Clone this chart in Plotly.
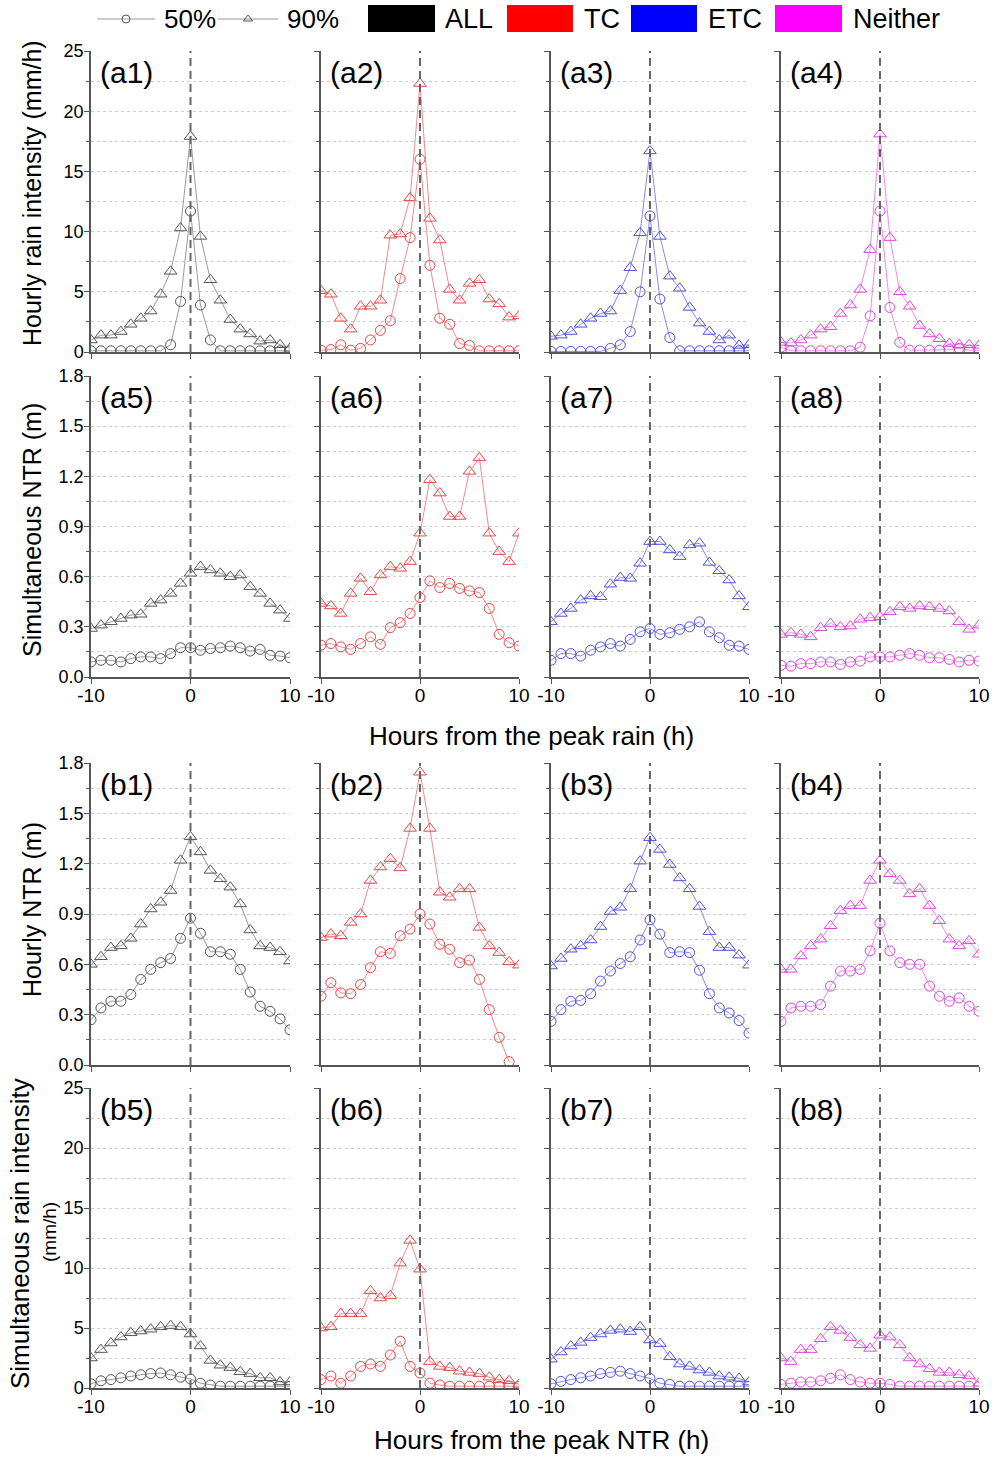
import plotly.graph_objects as go

hours = list(range(-10, 11))
groups = ["ALL", "TC", "ETC", "Neither"]
panel_labels = ["(a1)", "(a2)", "(a3)", "(a4)", "(a5)", "(a6)", "(a7)", "(a8)",
                "(b1)", "(b2)", "(b3)", "(b4)", "(b5)", "(b6)", "(b7)", "(b8)"]
yticks_rain = [0, 5, 10, 15, 20, 25]
yticks_ntr = [0.0, 0.3, 0.6, 0.9, 1.2, 1.5, 1.8]
xticks = [-10, 0, 10]
xtick_text = ["-10", "0", "10"]

# ---- (a) hourly rain intensity around peak rain (mm/h)
a1_p50 = [0.1, 0.1, 0.1, 0.1, 0.1, 0.1, 0.1, 0.1, 0.6, 4.2, 11.7, 3.9, 1.0, 0.1, 0.1, 0.1, 0.1, 0.1, 0.1, 0.1, 0.1]
a1_p90 = [1.0, 1.4, 1.4, 1.7, 2.3, 2.8, 3.4, 4.8, 6.7, 10.3, 17.9, 9.6, 6.0, 4.3, 2.7, 1.9, 1.5, 0.9, 1.0, 0.6, 0.3]
a2_p50 = [0.15, 0.2, 0.6, 0.15, 0.3, 1.0, 1.8, 2.6, 6.1, 9.5, 16.0, 7.2, 2.8, 2.3, 0.7, 0.55, 0.1, 0.1, 0.1, 0.1, 0.1]
a2_p90 = [5.1, 4.8, 2.8, 1.9, 3.8, 3.8, 4.3, 9.7, 9.8, 12.8, 22.3, 11.1, 9.3, 5.2, 4.3, 5.7, 6.0, 4.4, 4.0, 2.9, 3.0]
a3_p50 = [0.05, 0.05, 0.05, 0.05, 0.05, 0.05, 0.3, 0.6, 1.7, 5.0, 11.3, 4.4, 1.2, 0.1, 0.1, 0.1, 0.1, 0.1, 0.1, 0.1, 0.1]
a3_p90 = [1.3, 1.4, 1.7, 2.3, 2.8, 3.2, 3.4, 5.1, 7.0, 9.9, 16.7, 9.6, 6.3, 5.3, 3.7, 2.4, 1.7, 1.0, 1.4, 0.55, 0.6]
a4_p50 = [0.4, 0.1, 0.1, 0.1, 0.1, 0.1, 0.1, 0.1, 0.4, 3.0, 11.7, 3.7, 0.8, 0.15, 0.15, 0.15, 0.15, 0.2, 0.3, 0.15, 0.15]
a4_p90 = [0.8, 0.75, 1.0, 1.4, 1.9, 2.1, 3.2, 3.9, 5.2, 8.5, 18.1, 9.5, 5.0, 3.8, 2.2, 1.5, 1.1, 0.7, 0.6, 0.6, 0.55]

# ---- (a) simultaneous NTR around peak rain (m)
a5_p50 = [0.09, 0.10, 0.10, 0.09, 0.11, 0.12, 0.12, 0.11, 0.14, 0.175, 0.175, 0.16, 0.17, 0.175, 0.185, 0.175, 0.155, 0.165, 0.13, 0.125, 0.115]
a5_p90 = [0.29, 0.31, 0.33, 0.35, 0.37, 0.375, 0.44, 0.46, 0.50, 0.56, 0.62, 0.66, 0.64, 0.62, 0.60, 0.61, 0.54, 0.50, 0.44, 0.40, 0.35]
a6_p50 = [0.19, 0.20, 0.18, 0.165, 0.20, 0.24, 0.195, 0.295, 0.325, 0.38, 0.475, 0.575, 0.535, 0.56, 0.53, 0.515, 0.505, 0.41, 0.255, 0.205, 0.185]
a6_p90 = [0.44, 0.425, 0.38, 0.50, 0.59, 0.51, 0.61, 0.66, 0.65, 0.69, 0.86, 1.18, 1.10, 0.96, 0.96, 1.23, 1.31, 0.86, 0.75, 0.69, 0.86]
a7_p50 = [0.10, 0.14, 0.14, 0.125, 0.16, 0.18, 0.20, 0.185, 0.225, 0.27, 0.29, 0.255, 0.265, 0.285, 0.30, 0.33, 0.27, 0.235, 0.19, 0.185, 0.165]
a7_p90 = [0.33, 0.38, 0.41, 0.46, 0.485, 0.48, 0.555, 0.595, 0.59, 0.68, 0.81, 0.81, 0.76, 0.72, 0.79, 0.80, 0.685, 0.635, 0.58, 0.485, 0.42]
a8_p50 = [0.07, 0.065, 0.08, 0.08, 0.09, 0.09, 0.075, 0.09, 0.095, 0.12, 0.12, 0.12, 0.13, 0.14, 0.13, 0.115, 0.115, 0.105, 0.09, 0.10, 0.095]
a8_p90 = [0.255, 0.265, 0.255, 0.24, 0.295, 0.32, 0.30, 0.305, 0.345, 0.355, 0.36, 0.39, 0.42, 0.41, 0.425, 0.42, 0.41, 0.395, 0.33, 0.285, 0.31]

# ---- (b) hourly NTR around peak NTR (m)
b1_p50 = [0.27, 0.34, 0.38, 0.38, 0.42, 0.51, 0.57, 0.61, 0.635, 0.755, 0.875, 0.785, 0.675, 0.675, 0.66, 0.57, 0.435, 0.35, 0.32, 0.275, 0.21]
b1_p90 = [0.60, 0.645, 0.70, 0.71, 0.755, 0.84, 0.93, 0.97, 1.04, 1.22, 1.36, 1.27, 1.16, 1.11, 1.06, 0.96, 0.805, 0.71, 0.70, 0.675, 0.62]
b2_p50 = [0.41, 0.49, 0.43, 0.425, 0.48, 0.58, 0.675, 0.665, 0.77, 0.81, 0.90, 0.84, 0.72, 0.69, 0.61, 0.625, 0.51, 0.33, 0.165, 0.02, None]
b2_p90 = [0.76, 0.78, 0.77, 0.85, 0.90, 1.10, 1.18, 1.23, 1.175, 1.41, 1.745, 1.41, 1.03, 1.00, 1.05, 1.05, 0.82, 0.71, 0.67, 0.615, 0.595]
b3_p50 = [0.26, 0.33, 0.38, 0.385, 0.425, 0.50, 0.56, 0.605, 0.645, 0.745, 0.865, 0.78, 0.67, 0.675, 0.67, 0.565, 0.425, 0.34, 0.31, 0.265, 0.19]
b3_p90 = [0.59, 0.635, 0.69, 0.71, 0.745, 0.825, 0.915, 0.94, 1.05, 1.215, 1.355, 1.285, 1.195, 1.115, 1.05, 0.945, 0.795, 0.70, 0.70, 0.655, 0.595]
b4_p50 = [0.26, 0.34, 0.35, 0.35, 0.36, 0.47, 0.56, 0.56, 0.57, 0.68, 0.845, 0.68, 0.61, 0.60, 0.60, 0.47, 0.41, 0.38, 0.40, 0.35, 0.32]
b4_p90 = [0.57, 0.57, 0.65, 0.71, 0.75, 0.83, 0.92, 0.95, 0.95, 1.10, 1.22, 1.14, 1.10, 1.02, 1.05, 0.95, 0.86, 0.75, 0.71, 0.74, 0.66]

# ---- (b) simultaneous rain intensity around peak NTR (mm/h)
b5_p50 = [0.35, 0.6, 0.7, 0.85, 1.0, 1.1, 1.2, 1.25, 1.1, 0.9, 0.75, 0.4, 0.25, 0.15, 0.15, 0.15, 0.15, 0.15, 0.15, 0.15, 0.15]
b5_p90 = [2.5, 3.2, 3.75, 4.25, 4.6, 4.75, 4.9, 5.1, 5.2, 5.1, 4.5, 3.5, 2.3, 1.9, 1.7, 1.35, 1.2, 0.85, 0.85, 0.5, 0.5]
b6_p50 = [0.7, 1.0, 0.4, 1.0, 1.8, 2.0, 1.8, 2.75, 3.9, 1.8, 1.25, 0.4, 0.25, 0.15, 0.15, 0.15, 0.15, 0.15, 0.15, 0.15, 0.15]
b6_p90 = [5.0, 5.1, 6.2, 6.2, 6.2, 8.1, 7.5, 7.7, 10.4, 12.3, 9.9, 2.2, 1.8, 1.7, 1.4, 1.3, 1.2, 0.9, 0.7, 0.6, 0.3]
b7_p50 = [0.35, 0.55, 0.7, 0.85, 1.0, 1.2, 1.3, 1.4, 1.2, 1.0, 0.8, 0.4, 0.3, 0.15, 0.15, 0.15, 0.15, 0.15, 0.15, 0.15, 0.15]
b7_p90 = [2.4, 3.0, 3.5, 3.8, 4.2, 4.5, 4.8, 4.9, 4.7, 5.1, 4.0, 3.7, 2.6, 2.0, 1.8, 1.5, 1.3, 1.0, 0.9, 0.8, 0.5]
b8_p50 = [0.3, 0.4, 0.5, 0.5, 0.6, 0.8, 1.1, 0.7, 0.5, 0.4, 0.4, 0.3, 0.15, 0.15, 0.15, 0.15, 0.15, 0.15, 0.15, 0.15, 0.15]
b8_p90 = [2.5, 2.2, 3.2, 3.2, 4.1, 5.1, 4.8, 4.2, 3.6, 3.3, 4.4, 4.25, 3.6, 2.5, 2.0, 1.6, 1.3, 1.3, 1.1, 1.0, 0.4]

p50_series = [a1_p50, a2_p50, a3_p50, a4_p50, a5_p50, a6_p50, a7_p50, a8_p50,
              b1_p50, b2_p50, b3_p50, b4_p50, b5_p50, b6_p50, b7_p50, b8_p50]
p90_series = [a1_p90, a2_p90, a3_p90, a4_p90, a5_p90, a6_p90, a7_p90, a8_p90,
              b1_p90, b2_p90, b3_p90, b4_p90, b5_p90, b6_p90, b7_p90, b8_p90]

# ---------------- styling / layout constants
W, H = 993, 1458
FONT = "Liberation Sans, Arial, sans-serif"
line_colors = ["#9a9a9a", "#f28a8a", "#8a8af2", "#f08af0"]
marker_colors = ["#555555", "#e04848", "#5050d8", "#d848d8"]
box_colors = ["#000000", "#ff0000", "#0000ff", "#ff00ff"]
col_px = [(91, 290), (321, 519), (551, 749), (781, 979)]
row_px = [(51, 352), (376, 677), (763, 1065), (1088, 1388)]
row_is_rain = [True, False, False, True]

fig = go.Figure()
layout = dict(template="none", width=W, height=H, margin=dict(l=0, r=0, t=0, b=0, pad=0),
              autosize=False,
              paper_bgcolor="white", plot_bgcolor="white", showlegend=False,
              font=dict(family=FONT, color="black"))
shapes, annotations = [], []

for k in range(16):
    r, c = divmod(k, 4)
    sfx = "" if k == 0 else str(k + 1)
    xa, ya = f"x{sfx}", f"y{sfx}"
    fig.add_trace(go.Scatter(x=hours, y=p90_series[k], mode="lines+markers", xaxis=xa, yaxis=ya,
                             line=dict(color=line_colors[c], width=1),
                             marker=dict(symbol="triangle-up-open", size=11,
                                         color=marker_colors[c], line=dict(width=1, color=marker_colors[c])),
                             connectgaps=False))
    fig.add_trace(go.Scatter(x=hours, y=p50_series[k], mode="lines+markers", xaxis=xa, yaxis=ya,
                             line=dict(color=line_colors[c], width=1),
                             marker=dict(symbol="circle-open", size=10,
                                         color=marker_colors[c], line=dict(width=1, color=marker_colors[c])),
                             connectgaps=False))
    x0, x1 = col_px[c]
    y0, y1 = row_px[r]
    rain = row_is_rain[r]
    layout[f"xaxis{sfx}"] = dict(domain=[x0 / W, x1 / W], anchor=ya, range=[-10, 10],
                                 tickvals=xticks, ticktext=xtick_text, ticks="outside", ticklen=5, tickwidth=1.2,
                                 tickcolor="#555", showticklabels=(r in (1, 3)), automargin=False,
                                 ticklabelstandoff=-5,
                                 tickfont=dict(size=19, family=FONT, color="black"),
                                 showline=True, linecolor="#555", linewidth=1.5,
                                 showgrid=False, zeroline=False, fixedrange=True)
    ydict = dict(domain=[1 - y1 / H, 1 - y0 / H], anchor=xa,
                 range=[0, 25] if rain else [0, 1.8],
                 tickvals=yticks_rain if rain else yticks_ntr,
                 ticks="outside", ticklen=5, tickwidth=1.2, tickcolor="#555",
                 showticklabels=(c == 0), automargin=False, ticklabelstandoff=-3,
                 tickfont=dict(size=18, family=FONT, color="black"),
                 showline=True, linecolor="#555", linewidth=1.5,
                 showgrid=True, gridcolor="#cfcfcf", gridwidth=1, griddash="dot",
                 zeroline=False, fixedrange=True,
                 minor=dict(dtick=2.5 if rain else 0.15, tick0=0, ticks="outside", ticklen=3,
                            tickcolor="#555", showgrid=True, gridcolor="#cfcfcf", griddash="dot"))
    if not rain:
        ydict["tickformat"] = ".1f"
    layout[f"yaxis{sfx}"] = ydict
    shapes.append(dict(type="line", xref=xa, yref=f"{ya} domain", x0=0, x1=0, y0=0, y1=1,
                       line=dict(color="#666666", width=2, dash="8px,5px"), layer="above"))
    annotations.append(dict(text=panel_labels[k], xref=f"{xa} domain", yref=f"{ya} domain",
                            x=0.035, y=0.99, xanchor="left", yanchor="top", showarrow=False,
                            font=dict(size=30, family=FONT, color="black")))

# ---- axis titles
def px_ann(text, x, y, size, angle=0, xanchor="center"):
    annotations.append(dict(text=text, xref="paper", yref="paper", x=x / W, y=1 - y / H,
                            xanchor=xanchor, yanchor="middle", showarrow=False, textangle=angle,
                            font=dict(size=size, family=FONT, color="black")))

px_ann("Hourly rain intensity (mm/h)", 32, 193, 25, -90)
px_ann("Simultaneous NTR (m)", 32, 530, 25, -90)
px_ann("Hourly NTR (m)", 32, 910, 25, -90)
px_ann("Simultaneous rain intensity", 20, 1234, 26, -90)
px_ann("(mm/h)", 49, 1232, 19, -90)
px_ann("Hours from the peak rain (h)", 531, 736, 26)
px_ann("Hours from the peak NTR (h)", 541, 1440, 26)

# ---- top legend (on a hidden pixel-scaled axis)
layout["xaxis17"] = dict(domain=[0, 1], range=[0, W], visible=False, anchor="y17", fixedrange=True, automargin=False)
layout["yaxis17"] = dict(domain=[1 - 40 / H, 1], range=[40, 0], visible=False, anchor="x17", fixedrange=True, automargin=False)
for (lx0, lx1, sym, lab, tx) in [(97, 155, "circle-open", "50%", 162), (218, 278, "triangle-up-open", "90%", 285)]:
    fig.add_trace(go.Scatter(x=[lx0, (lx0 + lx1) / 2, lx1], y=[19, 19, 19], mode="lines", xaxis="x17", yaxis="y17",
                             line=dict(color="#9a9a9a", width=1), hoverinfo="skip"))
    fig.add_trace(go.Scatter(x=[(lx0 + lx1) / 2], y=[19], mode="markers", xaxis="x17", yaxis="y17",
                             marker=dict(symbol=sym, size=8, color="#555555", line=dict(width=1, color="#555555")),
                             hoverinfo="skip"))
    annotations.append(dict(text=lab, xref="x17", yref="y17", x=tx, y=19, xanchor="left", yanchor="middle",
                            showarrow=False, font=dict(size=26, family=FONT, color="black")))
for (bx0, bx1, tx), col, g in zip([(368, 435, 443), (507, 573, 582), (631, 697, 706), (775, 842, 851)],
                                  box_colors, groups):
    shapes.append(dict(type="rect", xref="x17", yref="y17", x0=bx0, x1=bx1, y0=5, y1=32,
                       fillcolor=col, line=dict(width=0)))
    annotations.append(dict(text=g, xref="x17", yref="y17", x=tx, y=19, xanchor="left", yanchor="middle",
                            showarrow=False, font=dict(size=27, family=FONT, color="black")))

layout["shapes"] = shapes
layout["annotations"] = annotations
fig.update_layout(**layout)
fig.write_html("out.html", config={"responsive": False},
               post_script="document.body.style.margin='0';document.body.style.overflow='hidden';")
